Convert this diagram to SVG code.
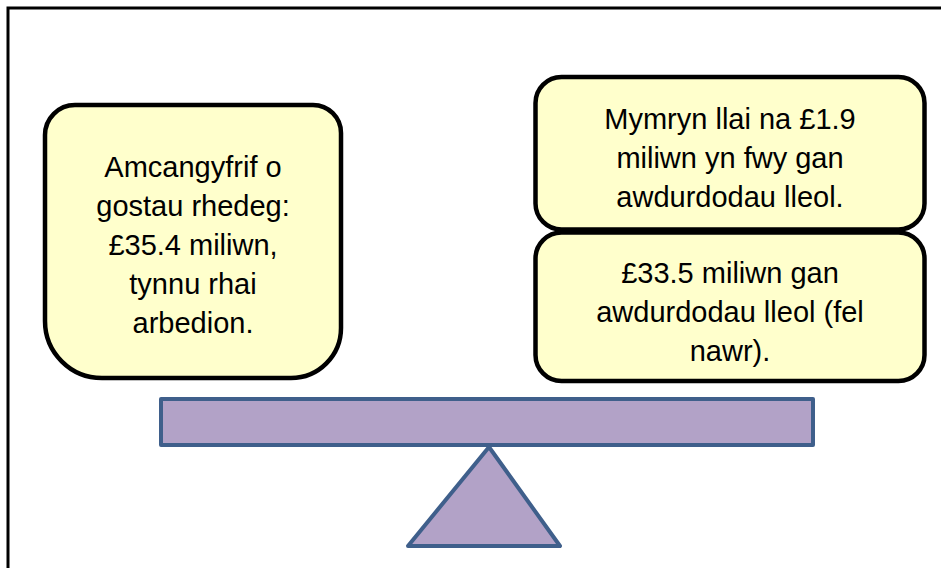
<svg xmlns="http://www.w3.org/2000/svg" width="941" height="568" viewBox="0 0 941 568">
<style>
.box{fill:#FFFFCC;stroke:#000;stroke-width:4.5;stroke-linejoin:round}
.t{font-family:"Liberation Sans",Arial,sans-serif;font-size:29px;fill:#000;text-anchor:middle}
.seesaw{fill:#B2A2C7;stroke:#3F5F8B;stroke-width:4;stroke-linejoin:round}
</style>
<rect x="0" y="0" width="941" height="568" fill="#fff"/>
<rect id="frame" x="8" y="8" width="960" height="600" fill="none" stroke="#000" stroke-width="3"/>
<g id="costs">
<path class="box" d="M75,105 L313,105 A28,28 0 0 1 341,133 L341,328 A50,50 0 0 1 291,378 L102,378 A57,57 0 0 1 45,321 L45,135 A30,30 0 0 1 75,105 Z"/>
<text class="t" x="193" y="177">Amcangyfrif o</text>
<text class="t" x="193" y="216">gostau rhedeg:</text>
<text class="t" x="193" y="255">£35.4 miliwn,</text>
<text class="t" x="193" y="294">tynnu rhai</text>
<text class="t" x="193" y="333">arbedion.</text>
</g>
<g id="extra">
<rect class="box" x="535.5" y="77" width="389" height="152.5" rx="26"/>
<text class="t" x="730" y="129">Mymryn llai na £1.9</text>
<text class="t" x="730" y="168">miliwn yn fwy gan</text>
<text class="t" x="730" y="207">awdurdodau lleol.</text>
</g>
<g id="current">
<rect class="box" x="535.5" y="232.5" width="389" height="148.5" rx="26"/>
<text class="t" x="730" y="283">£33.5 miliwn gan</text>
<text class="t" x="730" y="322">awdurdodau lleol (fel</text>
<text class="t" x="730" y="361">nawr).</text>
</g>
<g id="scale">
<rect class="seesaw" x="161" y="399" width="652" height="46"/>
<polygon class="seesaw" points="489,447 560,546 408,546"/>
</g>
<g id="connectors"></g>
</svg>
